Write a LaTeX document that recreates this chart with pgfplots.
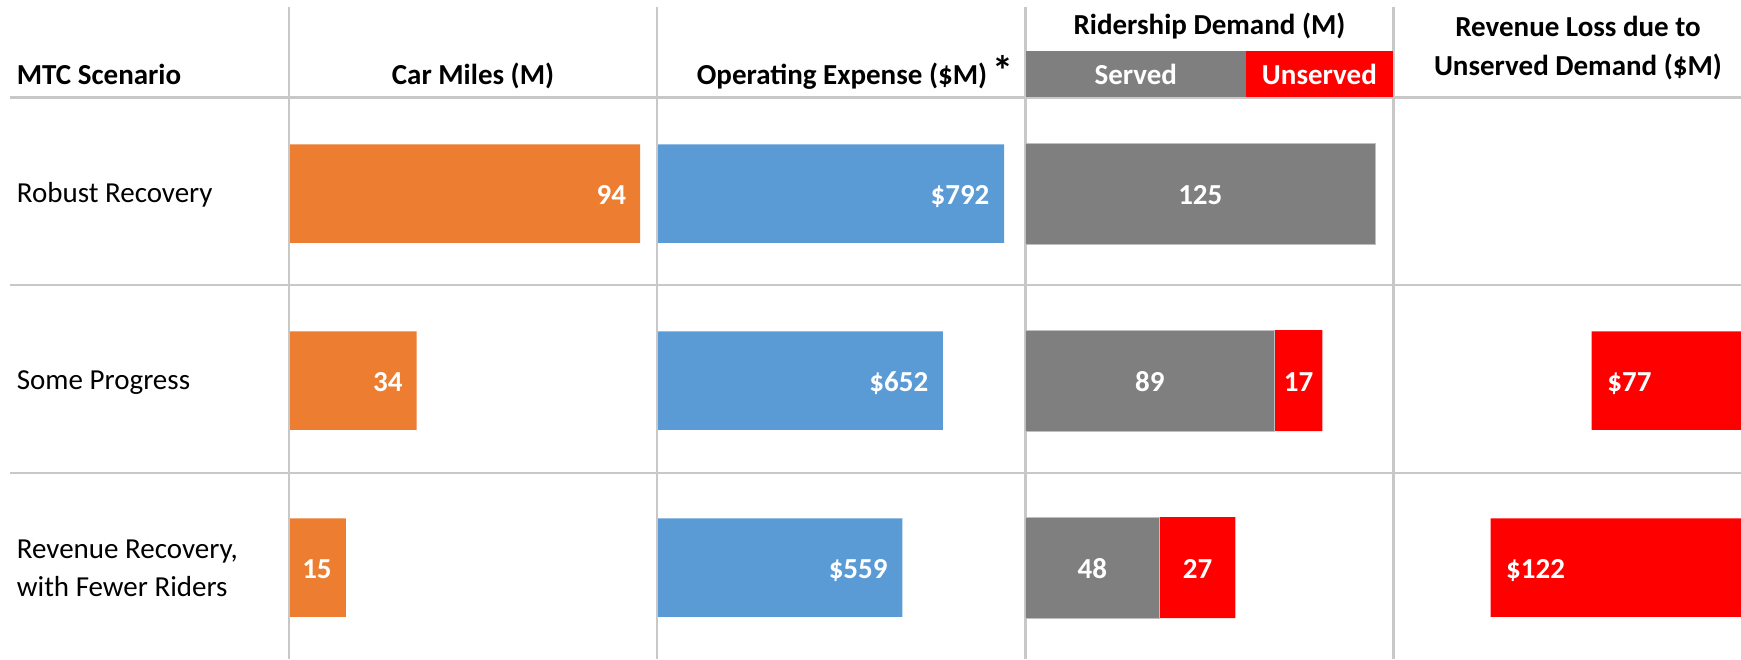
\documentclass[border=0pt]{standalone}
\usepackage{pgfplots}
\pgfplotsset{compat=1.18}
\usepackage{fontspec}
\setmainfont{Carlito}
\definecolor{cOrange}{HTML}{ED7D31}
\definecolor{cBlue}{HTML}{5B9BD5}
\definecolor{cGray}{HTML}{7F7F7F}
\definecolor{cRed}{HTML}{FF0000}
\definecolor{cLine}{HTML}{C8C8C8}
\newcommand{\fs}{\fontsize{29}{38}\selectfont}
\pgfplotsset{
  panel/.style={
    scale only axis, hide axis,
    y dir=reverse, ymin=-0.5, ymax=2.5, height=561pt,
    anchor=south west,
  },
  vlbl/.style={
    nodes near coords, point meta=explicit symbolic,
    every node near coord/.append style={font=\fs\bfseries, text=white, inner sep=0pt, #1},
  },
  lblplot/.style={only marks, mark=*, mark size=0pt, mark options={draw=none, fill=none}},
}
\begin{document}
\begin{tikzpicture}[x=1pt,y=1pt]
% table rules
\begin{scope}[cLine, line width=2.5pt]
\foreach \xx in {289,657,1025.5,1393.5} \draw (\xx,652.3) -- (\xx,0);
\foreach \yy in {97.7,285.2,473} \draw (9.5,659-\yy) -- (1741,659-\yy);
\end{scope}
% header
\node[anchor=base west, inner sep=0, font=\fs\bfseries] at (16.7, 659-85) {MTC Scenario};
\node[anchor=base, inner sep=0, font=\fs\bfseries] at (473, 659-85) {Car Miles (M)};
\node[anchor=base, inner sep=0, font=\fs\bfseries] (opx) at (842, 659-85) {Operating Expense (\$M)};
\node[anchor=base west, inner sep=0, font=\fontsize{42}{42}\selectfont\bfseries] at ([xshift=5pt, yshift=-1pt]opx.base east) {*};
\node[anchor=base, inner sep=0, font=\fs\bfseries] at (1209.5, 659-35) {Ridership Demand (M)};
\fill[cGray] (1026, 659-50.7) rectangle (1245.7, 659-96.7);
\fill[cRed] (1245.7, 659-50.7) rectangle (1393, 659-96.7);
\node[anchor=base, inner sep=0, font=\fs\bfseries, text=white] at (1135.8, 659-85) {Served};
\node[anchor=base, inner sep=0, font=\fs\bfseries, text=white] at (1319.4, 659-85) {Unserved};
\node[anchor=base, inner sep=0, font=\fs\bfseries] at (1578, 659-36.7) {Revenue Loss due to};
\node[anchor=base, inner sep=0, font=\fs\bfseries] at (1578, 659-76) {Unserved Demand (\$M)};
% row labels
\node[anchor=base west, inner sep=0, font=\fs] at (16.7, 659-202.3) {Robust Recovery};
\node[anchor=base west, inner sep=0, font=\fs] at (16.7, 659-389.1) {Some Progress};
\node[anchor=base west, inner sep=0, font=\fs] at (16.7, 659-558.3) {Revenue Recovery,};
\node[anchor=base west, inner sep=0, font=\fs] at (16.7, 659-596.7) {with Fewer Riders};

% Car miles
\begin{axis}[panel, at={(290pt,-2.2pt)}, width=372.5pt, xmin=0, xmax=100]
\addplot[xbar, bar width=98.5pt, bar shift=0pt, fill=cOrange, draw=none,
  vlbl={anchor=base east, xshift=-14pt, yshift=-10.3pt}] table[x=v, y=r, meta=v] {
v  r
94 0
34 1
15 2
};
\end{axis}

% Operating expense
\begin{axis}[panel, at={(658pt,-2.2pt)}, width=367.08pt, xmin=0, xmax=840]
\addplot[xbar, bar width=98.5pt, bar shift=0pt, fill=cBlue, draw=none,
  vlbl={anchor=base east, xshift=-14.5pt, yshift=-10.3pt}, nodes near coords={\$\pgfplotspointmeta}] table[x=v, y=r, meta=v] {
v   r
792 0
652 1
559 2
};
\end{axis}

% Ridership demand: total (served + unserved) in red, served in gray on top
\begin{axis}[panel, at={(1025pt,-2.2pt)}, width=364.65pt, xmin=0, xmax=130]
\addplot[xbar, bar width=101pt, bar shift=0pt, fill=cRed, draw=none] table[x=t, y=r] {
t   r
106 1
75  2
};
\addplot[xbar, bar width=101pt, bar shift=0pt, fill=cGray, draw=black!25, line width=1pt] table[x=s, y=r] {
s   r
125 0
89  1
48  2
};
\addplot[lblplot, vlbl={anchor=base, yshift=-10.3pt}] table[x=c, y=r, meta=l] {
c     r  l
62.5  0  125
44.5  1  89
97.5  1  17
24    2  48
61.5  2  27
};
\end{axis}

% Revenue loss due to unserved demand (bars grow leftwards, cropped at right)
\begin{axis}[panel, at={(1395pt,-2.2pt)}, width=346pt, x dir=reverse, xmin=10.55, xmax=164.5]
\addplot[xbar, bar width=98.5pt, bar shift=0pt, fill=cRed, draw=none,
  vlbl={anchor=base west, xshift=15.5pt, yshift=-10.3pt}, nodes near coords={\$\pgfplotspointmeta}] table[x=v, y=r, meta=v] {
v   r
77  1
122 2
};
\end{axis}
\pgfresetboundingbox
\path[use as bounding box] (0,0) rectangle (1741,659);
\end{tikzpicture}
\end{document}
